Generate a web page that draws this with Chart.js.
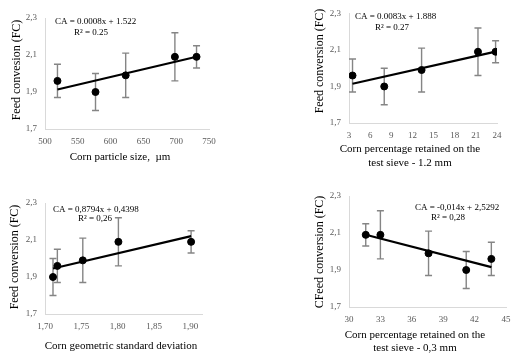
<!DOCTYPE html>
<html>
<head>
<meta charset="utf-8">
<script src="https://cdn.jsdelivr.net/npm/chart.js@4.4.1/dist/chart.umd.min.js"></script>
<style>
    body { margin: 0; background: #fff; }
    #wrap { position: relative; width: 518px; height: 355px; }
    canvas { position: absolute; }
</style>
</head>
<body>
<div id="wrap">
    <canvas id="panel1" width="259" height="177" style="left:0;top:0"></canvas>
    <canvas id="panel2" width="259" height="177" style="left:259px;top:0"></canvas>
    <canvas id="panel3" width="259" height="178" style="left:0;top:177px"></canvas>
    <canvas id="panel4" width="259" height="178" style="left:259px;top:177px"></canvas>
</div>
<script>
// feed conversion of the five diets (same in every panel) and its SD
const feedConversion = [1.96, 1.90, 1.99, 2.09, 2.09];
const feedConversionSd = [0.09, 0.10, 0.12, 0.13, 0.06];

// corn characteristics of the five diets
const particleSize = [519, 577, 623, 698, 731];
const retained12 = [3.5, 8.0, 13.3, 21.3, 23.8];
const geometricSd = [1.717, 1.711, 1.752, 1.801, 1.901];
const retained03 = [43.6, 41.2, 37.6, 33.0, 31.6];

// ticks
const yTicks = [1.7, 1.9, 2.1, 2.3];
const yTickLabels = ["1,7", "1,9", "2,1", "2,3"];
const xTicks1 = [500, 550, 600, 650, 700, 750];
const xTickLabels1 = ["500", "550", "600", "650", "700", "750"];
const xTicks2 = [3, 6, 9, 12, 15, 18, 21, 24];
const xTickLabels2 = ["3", "6", "9", "12", "15", "18", "21", "24"];
const xTicks3 = [1.70, 1.75, 1.80, 1.85, 1.90];
const xTickLabels3 = ["1,70", "1,75", "1,80", "1,85", "1,90"];
const xTicks4 = [30, 33, 36, 39, 42, 45];
const xTickLabels4 = ["30", "33", "36", "39", "42", "45"];

const serif = "'Liberation Serif', 'Times New Roman', serif";

// least squares line between the smallest and largest x
function trendPoints(xs, ys) {
    const n = xs.length;
    const mx = xs.reduce((a, b) => a + b, 0) / n;
    const my = ys.reduce((a, b) => a + b, 0) / n;
    let sxy = 0, sxx = 0;
    xs.forEach((x, i) => {
        sxy += (x - mx) * (ys[i] - my);
        sxx += (x - mx) * (x - mx);
    });
    const b = sxy / sxx;
    const a = my - b * mx;
    const lo = Math.min(...xs), hi = Math.max(...xs);
    return [{ x: lo, y: a + b * lo }, { x: hi, y: a + b * hi }];
}

// vertical error bars with caps
const errorBars = {
    id: "errorBars",
    beforeDatasetsDraw(chart) {
        const ds = chart.data.datasets[0];
        const xs = chart.scales.x, ys = chart.scales.y;
        const ctx = chart.ctx;
        ctx.save();
        ctx.strokeStyle = "#858585";
        ctx.lineWidth = 1.4;
        ds.data.forEach((p, i) => {
            const px = xs.getPixelForValue(p.x);
            const top = ys.getPixelForValue(p.y + ds.errors[i]);
            const bot = ys.getPixelForValue(p.y - ds.errors[i]);
            ctx.beginPath();
            ctx.moveTo(px, top); ctx.lineTo(px, bot);
            ctx.moveTo(px - 3.5, top); ctx.lineTo(px + 3.5, top);
            ctx.moveTo(px - 3.5, bot); ctx.lineTo(px + 3.5, bot);
            ctx.stroke();
        });
        ctx.restore();
    }
};

// axis titles and regression equations
const panelText = {
    id: "panelText",
    afterDraw(chart, args, opts) {
        const ctx = chart.ctx;
        ctx.save();
        ctx.fillStyle = "#000";
        ctx.textBaseline = "middle";
        (opts.items || []).forEach(t => {
            ctx.font = t.size + "px " + serif;
            ctx.textAlign = t.align || "center";
            if (t.rotate) {
                ctx.save();
                ctx.translate(t.x, t.y);
                ctx.rotate(-Math.PI / 2);
                ctx.fillText(t.text, 0, 0);
                ctx.restore();
            } else {
                ctx.fillText(t.text, t.x, t.y);
            }
        });
        ctx.restore();
    }
};

function makePanel(id, xs, o) {
    const ctx = document.getElementById(id).getContext("2d");
    return new Chart(ctx, {
        type: "scatter",
        data: {
            datasets: [
                {
                    data: xs.map((x, i) => ({ x: x, y: feedConversion[i] })),
                    errors: feedConversionSd,
                    backgroundColor: "#000",
                    borderColor: "#000",
                    pointRadius: 3.5,
                    order: 2
                },
                {
                    data: trendPoints(xs, feedConversion),
                    showLine: true,
                    borderColor: "#000",
                    borderWidth: 2.2,
                    pointRadius: 0,
                    order: 1
                }
            ]
        },
        options: {
            responsive: false,
            animation: false,
            layout: { padding: { left: 0, top: o.top, right: o.right, bottom: 0 } },
            plugins: {
                legend: { display: false },
                tooltip: { enabled: false },
                panelText: { items: o.texts }
            },
            scales: {
                x: {
                    type: "linear",
                    min: o.xMin,
                    max: o.xMax,
                    afterBuildTicks: s => { s.ticks = o.xTicks.map(v => ({ value: v })); },
                    afterFit: s => { s.height = o.xH; },
                    grid: { display: false, drawTicks: false },
                    border: { color: "#d9d9d9", width: 1 },
                    ticks: {
                        callback: (v, i) => o.xTickLabels[i],
                        font: { family: serif, size: 9 },
                        color: "#595959",
                        padding: 7,
                        maxRotation: 0,
                        autoSkip: false
                    }
                },
                y: {
                    min: 1.7,
                    max: 2.3,
                    afterBuildTicks: s => { s.ticks = yTicks.map(v => ({ value: v })); },
                    afterFit: s => { s.width = o.yW; },
                    grid: { display: false, drawTicks: false },
                    border: { color: "#d9d9d9", width: 1 },
                    ticks: {
                        callback: (v, i) => yTickLabels[i],
                        font: { family: serif, size: 9 },
                        color: "#595959",
                        padding: 8
                    }
                }
            }
        },
        plugins: [errorBars, panelText]
    });
}

makePanel("panel1", particleSize, {
    xMin: 500, xMax: 750, xTicks: xTicks1, xTickLabels: xTickLabels1,
    top: 18, right: 50, yW: 45, xH: 48,
    texts: [
        { text: "Feed convesion (FC)", x: 17, y: 70, size: 12, rotate: true },
        { text: "Corn particle size,  \u00b5m", x: 120, y: 157, size: 11 },
        { text: "CA = 0.0008x + 1.522", x: 55, y: 22, size: 9, align: "left" },
        { text: "R\u00b2 = 0.25", x: 91, y: 32.5, size: 9 }
    ]
});

makePanel("panel2", retained12, {
    xMin: 3, xMax: 24, xTicks: xTicks2, xTickLabels: xTickLabels2,
    top: 13, right: 21, yW: 90, xH: 54,
    texts: [
        { text: "Feed conversion (FC)", x: 61, y: 61, size: 12, rotate: true },
        { text: "Corn percentage retained on the", x: 151, y: 149, size: 11 },
        { text: "test sieve - 1.2 mm", x: 151, y: 163, size: 11 },
        { text: "CA = 0.0083x + 1.888", x: 96, y: 17, size: 9, align: "left" },
        { text: "R\u00b2 = 0.27", x: 133, y: 27.5, size: 9 }
    ]
});

makePanel("panel3", geometricSd, {
    xMin: 1.70, xMax: 1.916, xTicks: xTicks3, xTickLabels: xTickLabels3,
    top: 26, right: 57, yW: 45, xH: 41,
    texts: [
        { text: "Feed conversion (FC)", x: 15, y: 80, size: 12, rotate: true },
        { text: "Corn geometric standard deviation", x: 121, y: 169, size: 11 },
        { text: "CA = 0,8794x + 0,4398", x: 53, y: 32.5, size: 9, align: "left" },
        { text: "R\u00b2 = 0,26", x: 95, y: 42, size: 9 }
    ]
});

makePanel("panel4", retained03, {
    xMin: 30, xMax: 45, xTicks: xTicks4, xTickLabels: xTickLabels4,
    top: 19, right: 12, yW: 90, xH: 48,
    texts: [
        { text: "CFeed conversion (FC)", x: 61, y: 75, size: 12, rotate: true },
        { text: "Corn percentage retained on the", x: 156, y: 158, size: 11 },
        { text: "test sieve - 0,3 mm", x: 156, y: 171, size: 11 },
        { text: "CA = -0,014x + 2,5292", x: 156, y: 30.5, size: 9, align: "left" },
        { text: "R\u00b2 = 0,28", x: 189, y: 40.5, size: 9 }
    ]
});
</script>
</body>
</html>
